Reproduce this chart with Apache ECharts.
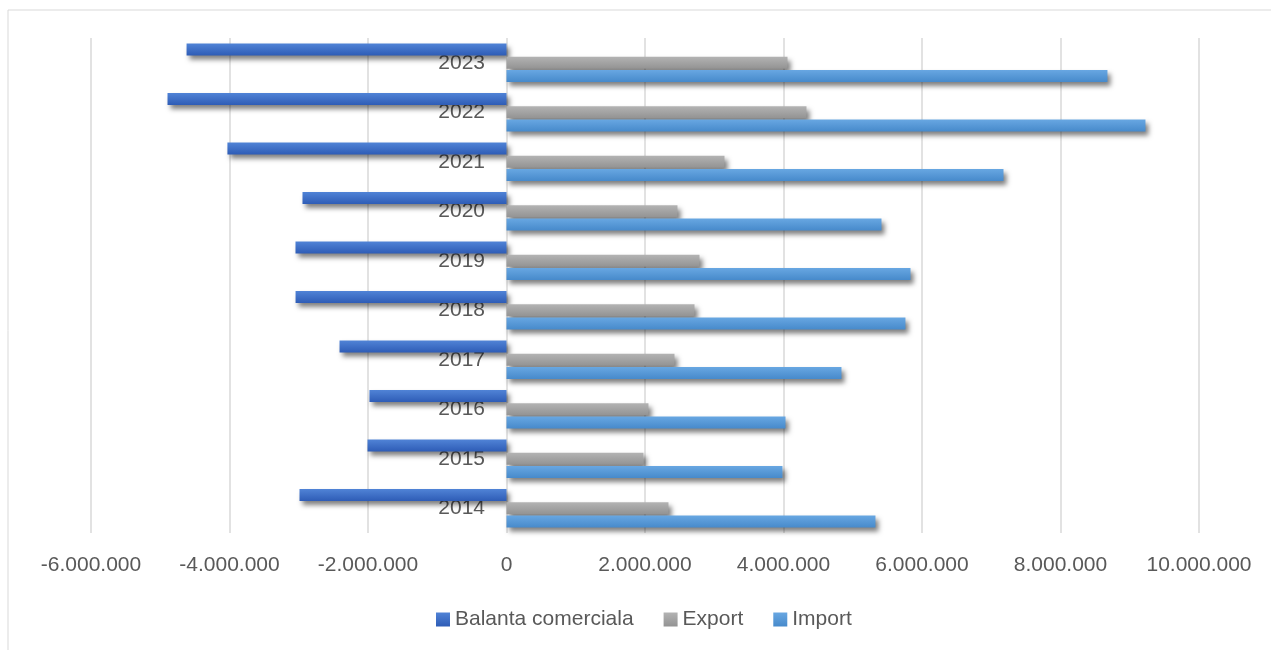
<!DOCTYPE html>
<html>
<head>
<meta charset="utf-8">
<script src="https://cdn.jsdelivr.net/npm/echarts@6/dist/echarts.min.js"></script>
<style>
  html, body { margin: 0; padding: 0; background: #fff; }
  #chart { width: 1271px; height: 650px; }
</style>
</head>
<body>
<div id="chart"></div>
<script>
const years = ['2014', '2015', '2016', '2017', '2018', '2019', '2020', '2021', '2022', '2023'];
const balanta = [-2989000, -2007000, -1979000, -2411000, -3046000, -3047000, -2946000, -4030000, -4895000, -4620000];
const exportVals = [2339000, 1978000, 2050000, 2426000, 2715000, 2787000, 2469000, 3148000, 4332000, 4058000];
const importVals = [5328000, 3985000, 4029000, 4837000, 5761000, 5834000, 5415000, 7177000, 9227000, 8678000];

const FONT = '"Liberation Sans", Arial, sans-serif';
const TEXT_COLOR = '#595959';

// format numbers with dots as thousands separator
function fmt(v) {
    const s = String(Math.abs(v)).replace(/\B(?=(\d{3})+(?!\d))/g, '.');
    return v < 0 ? '-' + s : s;
}

function grad(top, bottom) {
    return {
        type: 'linear', x: 0, y: 0, x2: 0, y2: 1,
        colorStops: [{ offset: 0, color: top }, { offset: 1, color: bottom }]
    };
}

function barSeries(name, data, top, bottom) {
    return {
        name: name,
        type: 'bar',
        data: data,
        barWidth: 12,
        barGap: '10%',
        itemStyle: {
            color: grad(top, bottom),
            shadowColor: 'rgba(0, 0, 0, 0.5)',
            shadowBlur: 5,
            shadowOffsetX: 3,
            shadowOffsetY: 4
        }
    };
}

const chart = echarts.init(document.getElementById('chart'));

const option = {
    animation: false,
    textStyle: { fontFamily: FONT },
    graphic: [
        {
            type: 'rect',
            shape: { x: 8, y: 10, width: 1400, height: 800 },
            style: { fill: 'none', stroke: '#d9d9d9', lineWidth: 1 },
            silent: true
        }
    ],
    grid: { left: 91, right: 72, top: 38, bottom: 117, containLabel: false },
    legend: {
        left: 431,
        top: 604,
        itemWidth: 14,
        itemHeight: 14,
        itemGap: 30,
        icon: 'rect',
        textStyle: { fontSize: 21, color: TEXT_COLOR, fontFamily: FONT },
        data: ['Balanta comerciala', 'Export', 'Import']
    },
    xAxis: {
        type: 'value',
        min: -6000000,
        max: 10000000,
        interval: 2000000,
        axisLine: { show: false },
        axisTick: { show: false },
        splitLine: { lineStyle: { color: '#d9d9d9', width: 1.5 } },
        axisLabel: {
            formatter: fmt,
            fontSize: 21,
            color: TEXT_COLOR,
            fontFamily: FONT,
            margin: 22
        }
    },
    yAxis: {
        type: 'category',
        data: years,
        axisLine: { show: false },
        axisTick: { show: false },
        // labels sit just left of the zero line (x = 507), like Excel's "next to axis"
        axisLabel: { fontSize: 21, color: TEXT_COLOR, fontFamily: FONT, margin: -394, padding: [8, 0, 0, 0] }
    },
    series: [
        barSeries('Balanta comerciala', balanta, '#5083d6', '#2e5cb6'),
        barSeries('Export', exportVals, '#b3b3b3', '#939393'),
        barSeries('Import', importVals, '#68a7e2', '#478acb')
    ]
};

chart.setOption(option);
</script>
</body>
</html>
